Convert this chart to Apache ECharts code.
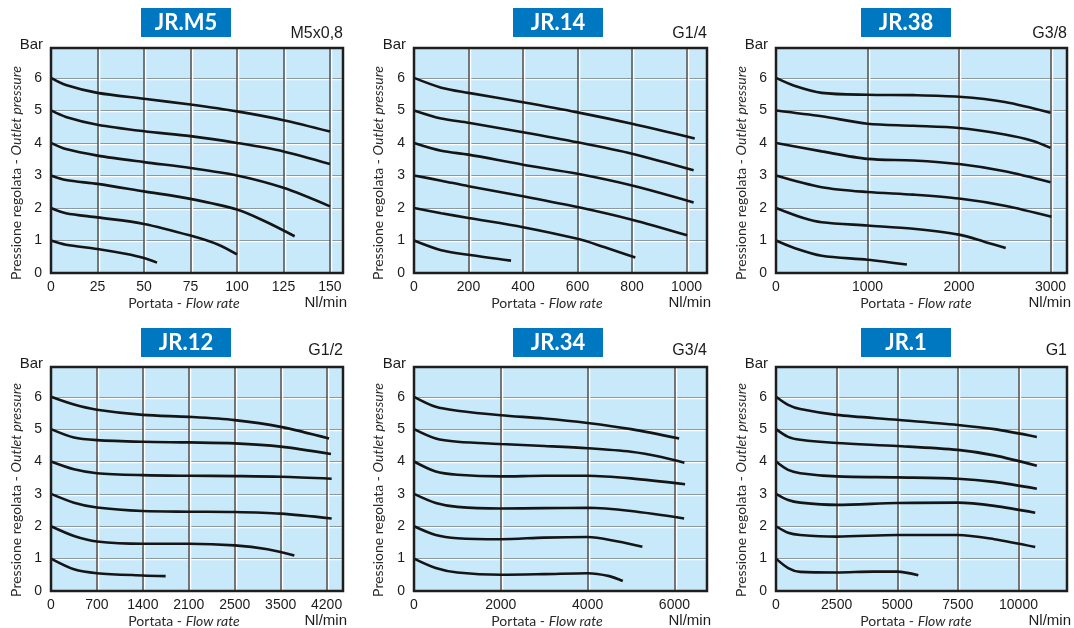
<!DOCTYPE html>
<html><head><meta charset="utf-8">
<script src="https://cdn.jsdelivr.net/npm/echarts@6/dist/echarts.min.js"></script>
<style>html,body{margin:0;padding:0;background:#fff}#c{width:1074px;height:628px}</style>
</head><body><div id="c"></div>
<script>
// ---------- DATA ----------
const panelNames = ['JR.M5', 'JR.14', 'JR.38', 'JR.12', 'JR.34', 'JR.1'];
const connLabels = ['M5x0,8', 'G1/4', 'G3/8', 'G1/2', 'G3/4', 'G1'];
const xMaxes = [157, 1075, 3180, 4450, 6750, 12000];
const xIntervals = [25, 200, 1000, 700, 2000, 2500];
const xLastTicks = [150, 1000, 3000, 4200, 6000, 10000];
// JR.12 axis is printed with uneven labels on evenly spaced grid lines
const jr12TickLabels = ['0', '700', '1400', '2100', '2500', '3500', '4200'];
const yTickMax = 6;
const yUnit = 'Bar';
const xUnit = 'Nl/min';
const yTitleA = 'Pressione regolata - ';
const yTitleB = 'Outlet pressure';
const xTitleA = 'Portata - ';
const xTitleB = 'Flow rate';

// JR.M5 curves [flow, pressure]
const m5_1 = [[0,1.0],[8,0.87],[25,0.74],[40,0.59],[50,0.46],[57,0.32]];
const m5_2 = [[0,2.0],[8,1.84],[25,1.71],[50,1.51],[75,1.15],[90,0.87],[100,0.57]];
const m5_3 = [[0,3.0],[8,2.86],[25,2.74],[50,2.51],[75,2.28],[100,1.95],[115,1.59],[131,1.13]];
const m5_4 = [[0,4.0],[8,3.81],[25,3.61],[50,3.41],[75,3.23],[100,3.0],[125,2.62],[150,2.05]];
const m5_5 = [[0,5.0],[8,4.8],[25,4.56],[50,4.36],[75,4.21],[100,4.0],[125,3.74],[150,3.35]];
const m5_6 = [[0,6.0],[8,5.78],[25,5.54],[50,5.36],[75,5.18],[100,4.97],[125,4.70],[150,4.35]];
// JR.14
const j14_1 = [[0,1.0],[100,0.7],[200,0.56],[356,0.38]];
const j14_2 = [[0,2.0],[100,1.84],[200,1.69],[400,1.41],[600,1.05],[700,0.79],[812,0.48]];
const j14_3 = [[0,3.0],[100,2.84],[200,2.67],[400,2.36],[600,2.03],[800,1.64],[1002,1.16]];
const j14_4 = [[0,4.0],[100,3.76],[200,3.64],[400,3.33],[600,3.05],[800,2.69],[1026,2.17]];
const j14_5 = [[0,5.0],[100,4.75],[200,4.62],[400,4.33],[600,4.02],[800,3.67],[1026,3.16]];
const j14_6 = [[0,6.0],[100,5.7],[200,5.54],[400,5.25],[600,4.94],[800,4.59],[1030,4.14]];
// JR.38
const j38_1 = [[0,1.0],[200,0.77],[500,0.53],[1000,0.41],[1430,0.26]];
const j38_2 = [[0,2.0],[300,1.69],[500,1.56],[1000,1.46],[1500,1.36],[2000,1.18],[2300,0.94],[2510,0.77]];
const j38_3 = [[0,3.0],[500,2.64],[1000,2.49],[1500,2.41],[2000,2.29],[2500,2.07],[3010,1.73]];
const j38_4 = [[0,4.0],[500,3.74],[1000,3.51],[1500,3.46],[2000,3.35],[2500,3.13],[3000,2.79]];
const j38_5 = [[0,5.0],[500,4.82],[1000,4.59],[1500,4.53],[2000,4.46],[2500,4.26],[2800,4.07],[3000,3.85]];
const j38_6 = [[0,6.0],[200,5.76],[500,5.54],[1000,5.48],[1500,5.47],[2000,5.42],[2500,5.26],[3000,4.93]];
// JR.12 (flow in grid-step units: one step = 700)
const j12_1 = [[0,1.0],[350,0.67],[700,0.55],[1400,0.48],[1747,0.46]];
const j12_2 = [[0,2.0],[350,1.70],[700,1.53],[1400,1.46],[2100,1.46],[2800,1.41],[3300,1.29],[3708,1.10]];
const j12_3 = [[0,3.0],[350,2.73],[700,2.58],[1400,2.47],[2100,2.45],[2800,2.44],[3500,2.39],[4277,2.24]];
const j12_4 = [[0,4.0],[350,3.76],[700,3.64],[1400,3.58],[2100,3.56],[2800,3.55],[3500,3.53],[4277,3.47]];
const j12_5 = [[0,5.0],[350,4.74],[700,4.66],[1400,4.61],[2100,4.59],[2800,4.56],[3500,4.46],[4267,4.23]];
const j12_6 = [[0,6.0],[350,5.76],[700,5.6],[1400,5.44],[2100,5.38],[2800,5.28],[3500,5.07],[4237,4.71]];
// JR.34
const j34_1 = [[0,1.0],[500,0.71],[1000,0.57],[2000,0.50],[3000,0.52],[4000,0.55],[4500,0.46],[4810,0.31]];
const j34_2 = [[0,2.0],[500,1.73],[1000,1.63],[2000,1.60],[3000,1.65],[4000,1.67],[4700,1.53],[5262,1.37]];
const j34_3 = [[0,3.0],[500,2.72],[1000,2.60],[2000,2.55],[3000,2.56],[4000,2.57],[5000,2.47],[6223,2.24]];
const j34_4 = [[0,4.0],[500,3.69],[1000,3.59],[2000,3.54],[3000,3.56],[4000,3.56],[5000,3.48],[6245,3.30]];
const j34_5 = [[0,5.0],[500,4.71],[1000,4.61],[2000,4.54],[3000,4.48],[4000,4.41],[5000,4.30],[5700,4.14],[6230,3.96]];
const j34_6 = [[0,6.0],[500,5.69],[1000,5.57],[2000,5.43],[3000,5.33],[4000,5.19],[5000,5.0],[6108,4.71]];
// JR.1
const j1_1 = [[0,1.0],[500,0.71],[1000,0.59],[2500,0.57],[4000,0.60],[5000,0.60],[5868,0.49]];
const j1_2 = [[0,2.0],[500,1.80],[1000,1.73],[2500,1.68],[5000,1.73],[7500,1.73],[9000,1.60],[10689,1.36]];
const j1_3 = [[0,3.0],[500,2.81],[1000,2.73],[2500,2.66],[5000,2.72],[7500,2.73],[9000,2.63],[10689,2.42]];
const j1_4 = [[0,4.0],[500,3.74],[1000,3.64],[2500,3.54],[5000,3.51],[7500,3.47],[9000,3.37],[10757,3.16]];
const j1_5 = [[0,5.0],[500,4.76],[1000,4.67],[2500,4.57],[5000,4.48],[7500,4.36],[9000,4.19],[10757,3.87]];
const j1_6 = [[0,6.0],[500,5.75],[1000,5.62],[2500,5.44],[5000,5.29],[7500,5.13],[9000,5.0],[10757,4.76]];

const panelCurves = [
  [m5_1, m5_2, m5_3, m5_4, m5_5, m5_6],
  [j14_1, j14_2, j14_3, j14_4, j14_5, j14_6],
  [j38_1, j38_2, j38_3, j38_4, j38_5, j38_6],
  [j12_1, j12_2, j12_3, j12_4, j12_5, j12_6],
  [j34_1, j34_2, j34_3, j34_4, j34_5, j34_6],
  [j1_1, j1_2, j1_3, j1_4, j1_5, j1_6]
];
const panelTickLabels = [null, null, null, jr12TickLabels, null, null];

// ---------- LAYOUT ----------
const colLeft = [51, 414, 776];
const colWidth = [292, 293, 291];
const rowTop = [48, 367];
const rowHeight = [225, 224];
const yMax = 6.92;
const boxLeft = [141, 513, 861];
const boxTop = [8, 328];
const connY = [34, 351];
const xTitleX = [184, 547, 916];
const yTitleX = [16, 378, 741];

const NUM_FONT = '"Liberation Sans", Arial, sans-serif';
const TXT_FONT = 'Lato, "Open Sans", sans-serif';
const BG = '#c8e9fa';
const INK = '#1c1c1c';

const grids = [], xAxes = [], yAxes = [], series = [], graphics = [];
for (let i = 0; i < 6; i++) {
  const c = i % 3, r = Math.floor(i / 3);
  const L = colLeft[c], W = colWidth[c], T = rowTop[r], H = rowHeight[r];
  grids.push({ left: L, top: T, width: W, height: H, show: true, backgroundColor: BG, borderWidth: 0 });
  const interval = xIntervals[i], labels = panelTickLabels[i], lastTick = xLastTicks[i];
  xAxes.push({
    type: 'value', gridIndex: i, min: 0, max: xMaxes[i], interval: interval,
    axisLine: { show: false }, axisTick: { show: false },
    splitLine: { show: true, showMinLine: false, showMaxLine: false,
      lineStyle: { color: '#4f4f4f', width: 1.5, shadowColor: '#ffffff', shadowOffsetX: 1.5, shadowBlur: 0 } },
    axisLabel: { margin: 7, fontSize: 14, color: INK, fontFamily: NUM_FONT, showMaxLabel: false,
      formatter: function (v) {
        if (v % interval !== 0 || v > lastTick) return '';
        return labels ? labels[Math.round(v / interval)] : String(v);
      } }
  });
  yAxes.push({
    type: 'value', gridIndex: i, min: 0, max: yMax, interval: 1,
    axisLine: { show: false }, axisTick: { show: false },
    splitLine: { show: true, showMinLine: false, showMaxLine: false,
      lineStyle: { color: '#8a9aa5', width: 1.2, shadowColor: '#ffffff', shadowOffsetY: 1.2, shadowBlur: 0 } },
    axisLabel: { margin: 9, fontSize: 14, color: INK, fontFamily: NUM_FONT,
      formatter: function (v) { return (Number.isInteger(v) && v <= yTickMax) ? String(v) : ''; } }
  });
  panelCurves[i].forEach(function (d) {
    series.push({
      type: 'line', xAxisIndex: i, yAxisIndex: i, data: d, smooth: 0.3,
      showSymbol: false, symbol: 'none', silent: true,
      lineStyle: { color: '#151515', width: 2.6, cap: 'butt' }
    });
  });
  // frame
  graphics.push({ type: 'rect', z: 100, silent: true, shape: { x: L, y: T, width: W, height: H },
    style: { fill: null, stroke: '#1e1e1e', lineWidth: 2.5 } });
  // title box
  graphics.push({ type: 'rect', z: 100, silent: true, shape: { x: boxLeft[c], y: boxTop[r], width: 90, height: 29 },
    style: { fill: '#0077c1' } });
  graphics.push({ type: 'text', z: 101, silent: true, x: boxLeft[c] + 45, y: boxTop[r] + 15,
    style: { text: panelNames[i], fill: '#ffffff', fontFamily: TXT_FONT, fontWeight: 'bold', fontSize: 22, align: 'center', verticalAlign: 'middle' } });
  // connection label
  graphics.push({ type: 'text', z: 101, silent: true, x: L + W, y: connY[r],
    style: { text: connLabels[i], fill: INK, fontFamily: NUM_FONT, fontSize: 16, align: 'right', verticalAlign: 'middle' } });
  // Bar
  graphics.push({ type: 'text', z: 101, silent: true, x: L - 8, y: T - 3,
    style: { text: yUnit, fill: INK, fontFamily: NUM_FONT, fontSize: 15, align: 'right', verticalAlign: 'middle' } });
  // Nl/min
  graphics.push({ type: 'text', z: 101, silent: true, x: L + W + 4, y: T + H + 30,
    style: { text: xUnit, fill: INK, fontFamily: NUM_FONT, fontSize: 15, align: 'right', verticalAlign: 'middle' } });
  // x title
  graphics.push({ type: 'text', z: 101, silent: true, x: xTitleX[c], y: T + H + 30,
    style: { text: '{a|' + xTitleA + '}{b|' + xTitleB + '}', align: 'center', verticalAlign: 'middle',
      rich: { a: { fontFamily: TXT_FONT, fontSize: 14, fill: '#2a2a2a' }, b: { fontFamily: TXT_FONT, fontSize: 14, fontStyle: 'italic', fill: '#2a2a2a' } } } });
  // y title
  graphics.push({ type: 'text', z: 101, silent: true, x: yTitleX[c], y: T + (r === 0 ? 125 : 123), rotation: Math.PI / 2,
    style: { text: '{a|' + yTitleA + '}{b|' + yTitleB + '}', align: 'center', verticalAlign: 'middle',
      rich: { a: { fontFamily: TXT_FONT, fontSize: 14, fill: '#2a2a2a' }, b: { fontFamily: TXT_FONT, fontSize: 14, fontStyle: 'italic', fill: '#2a2a2a' } } } });
}

const chart = echarts.init(document.getElementById('c'), null, { renderer: 'canvas' });
chart.setOption({
  animation: false,
  backgroundColor: '#ffffff',
  grid: grids, xAxis: xAxes, yAxis: yAxes, series: series, graphic: graphics
});
</script></body></html>
